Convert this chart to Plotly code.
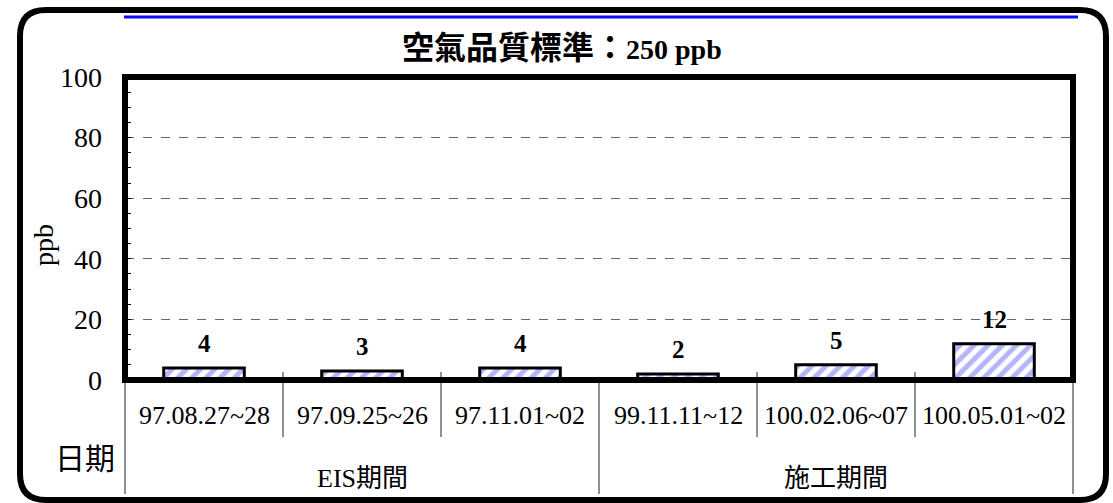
import plotly.graph_objects as go

# Sampling dates and measured concentrations (ppb)
dates = ["97.08.27~28", "97.09.25~26", "97.11.01~02",
         "99.11.11~12", "100.02.06~07", "100.05.01~02"]
values = [4, 3, 4, 2, 5, 12]
periods = ["EIS期間", "施工期間"]
period_sizes = [3, 3]
y_ticks = [0, 20, 40, 60, 80, 100]
title_cjk = "空氣品質標準："
title_latin = "250 ppb"
y_title = "ppb"
row_title = "日期"

W, H = 1113, 503
L, R, T, B = 125, 1073, 77, 380  # plot area in pixels

SERIF = "Liberation Serif, Times New Roman, Noto Sans CJK TC, serif"


def px(x):
    return (x - L) / (R - L)


def py(y):
    return (B - y) / (B - T)


fig = go.Figure()
fig.add_trace(go.Bar(
    x=list(range(len(dates))),
    y=values,
    width=0.51,
    marker=dict(
        color="white",
        line=dict(color="black", width=3),
        pattern=dict(shape="/", fgcolor="#6b6bff", bgcolor="white",
                     size=10, solidity=0.5),
    ),
    hoverinfo="skip",
))

shapes = []
annotations = []

# value labels above each bar
for i, v in enumerate(values):
    annotations.append(dict(
        x=i, y=v, xref="x", yref="y", text=f"<b>{v}</b>", showarrow=False,
        yanchor="bottom", yshift=9,
        font=dict(family=SERIF, size=25, color="black"),
    ))

# category labels and separators below the axis
n = len(dates)
cw = (R - L) / n
for i, d in enumerate(dates):
    annotations.append(dict(
        x=px(L + cw * (i + 0.5)), y=py(415), xref="paper", yref="paper",
        text=d, showarrow=False, font=dict(family=SERIF, size=26, color="black"),
        xanchor="center", yanchor="middle",
    ))

group_edges = [0]
for s in period_sizes:
    group_edges.append(group_edges[-1] + s)

for k in range(n + 1):
    xk = px(L + cw * k)
    if k in group_edges:
        y0, y1 = 383, 494
    else:
        y0, y1 = 372, 437
    shapes.append(dict(type="line", xref="paper", yref="paper",
                       x0=xk, x1=xk, y0=py(y0), y1=py(y1),
                       line=dict(color="#222222", width=1)))

for gi, g in enumerate(periods):
    xc = L + cw * (group_edges[gi] + group_edges[gi + 1]) / 2
    annotations.append(dict(
        x=px(xc), y=py(478), xref="paper", yref="paper", text=g,
        showarrow=False, font=dict(family=SERIF, size=26, color="black"),
        xanchor="center", yanchor="middle",
    ))

annotations.append(dict(
    x=px(85), y=py(458), xref="paper", yref="paper", text=row_title,
    showarrow=False, font=dict(family=SERIF, size=30, color="black"),
    xanchor="center", yanchor="middle",
))

# y-axis title
annotations.append(dict(
    x=px(43), y=py(245), xref="paper", yref="paper", text=y_title,
    showarrow=False, textangle=-90,
    font=dict(family=SERIF, size=28, color="black"),
    xanchor="center", yanchor="middle",
))

# chart title
annotations.append(dict(
    x=px(562), y=py(48), xref="paper", yref="paper",
    text=f"<b>{title_cjk}<span style='font-size:28px'>{title_latin}</span></b>",
    showarrow=False, font=dict(family=SERIF, size=32, color="black"),
    xanchor="center", yanchor="middle",
))

# thick plot frame
shapes.append(dict(type="rect", xref="paper", yref="paper",
                   x0=0, x1=px(R), y0=0, y1=1,
                   line=dict(color="black", width=6), layer="above"))

# blue rule under the outer frame top
shapes.append(dict(type="line", xref="paper", yref="paper",
                   x0=px(124), x1=px(1078), y0=py(17), y1=py(17),
                   line=dict(color="#0a0aff", width=3)))

# rounded outer frame
x0, x1, y0, y1, r = 20, 1106, 10, 500, 26
path = (f"M {px(x0 + r)},{py(y0)} L {px(x1 - r)},{py(y0)} "
        f"Q {px(x1)},{py(y0)} {px(x1)},{py(y0 + r)} "
        f"L {px(x1)},{py(y1 - r)} Q {px(x1)},{py(y1)} {px(x1 - r)},{py(y1)} "
        f"L {px(x0 + r)},{py(y1)} Q {px(x0)},{py(y1)} {px(x0)},{py(y1 - r)} "
        f"L {px(x0)},{py(y0 + r)} Q {px(x0)},{py(y0)} {px(x0 + r)},{py(y0)} Z")
shapes.append(dict(type="path", xref="paper", yref="paper", path=path,
                   line=dict(color="black", width=6)))

fig.update_layout(
    width=W, height=H,
    margin=dict(l=L, r=W - R, t=T, b=H - B, pad=0),
    paper_bgcolor="white", plot_bgcolor="white",
    showlegend=False,
    shapes=shapes,
    annotations=annotations,
    bargap=0.49,
    xaxis=dict(range=[-0.5, n - 0.5], showticklabels=False, ticks="",
               showgrid=False, zeroline=False, showline=False, fixedrange=True),
    yaxis=dict(range=[0, 100], tickvals=y_ticks, ticks="inside", ticklen=6,
               tickcolor="black", tickwidth=1,
               minor=dict(dtick=5, ticks="inside", ticklen=6, tickcolor="black",
                          showgrid=False),
               showgrid=True, gridcolor="#666666", griddash="dash", gridwidth=1,
               zeroline=False, showline=False,
               tickfont=dict(family=SERIF, size=28, color="black"),
               ticklabelstandoff=22, fixedrange=True),
)

fig.write_html("out.html")
